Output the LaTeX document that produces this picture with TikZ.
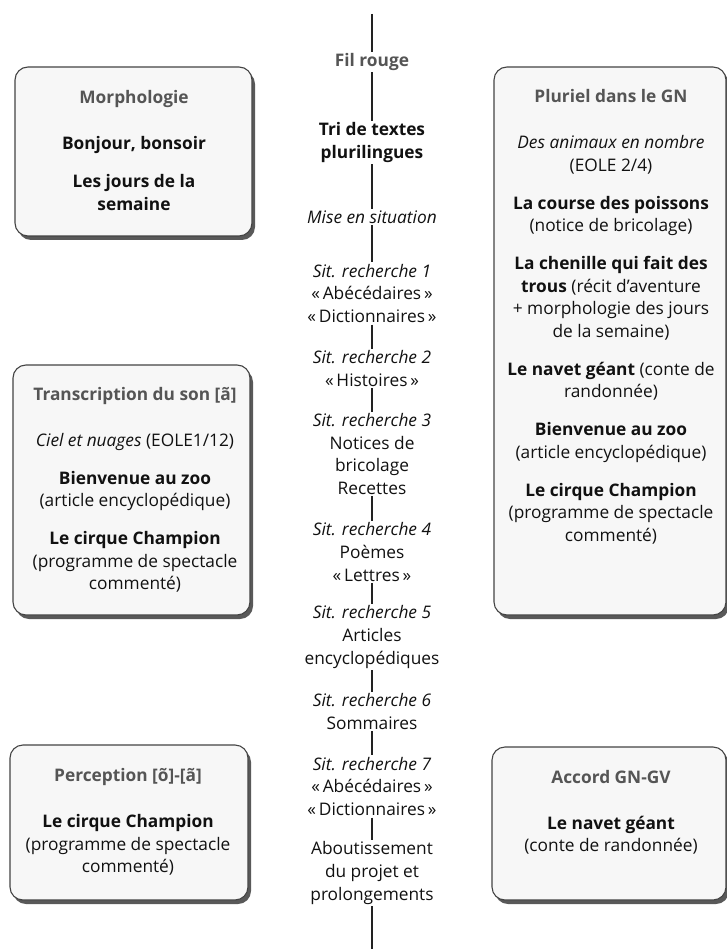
\documentclass[tikz,border=0pt]{standalone}
\usepackage{fontspec}
\setmainfont{Open Sans}
\usetikzlibrary{shadows}
\definecolor{ink}{HTML}{111111}
\definecolor{headgray}{HTML}{555555}
\definecolor{boxfill}{HTML}{F7F7F7}
\definecolor{boxline}{HTML}{444444}
\definecolor{rulecol}{HTML}{222222}
\newcommand\boxhead[1]{\textcolor{headgray}{\textbf{#1}}}
\begin{document}
\begin{tikzpicture}[x=1pt,y=-1pt,
  txt/.style={font=\fontsize{17.3}{22.7}\selectfont, text=ink, align=center, inner sep=1.5pt},
  panel/.style={draw=boxline, line width=1.1pt, fill=boxfill, rounded corners=13pt,
    drop shadow={shadow xshift=3pt, shadow yshift=-4pt, fill=black, opacity=0.65}},
  link/.style={draw=rulecol, line width=1.8pt}
  ]
\useasboundingbox[fill=white] (0,0) rectangle (727,949);

% panels
\node[panel, minimum width=237pt, minimum height=169pt] (morph) at (133.5,151.5) {};
\node[panel, minimum width=232pt, minimum height=548pt] (plur) at (610,341) {};
\node[panel, minimum width=237pt, minimum height=250pt] (trans) at (131.5,490) {};
\node[panel, minimum width=238pt, minimum height=155pt] (perc) at (129,822.5) {};
\node[panel, minimum width=234pt, minimum height=153pt] (accord) at (609,823.5) {};

% panel texts
\node[txt] (morphtxt) at (134,150.5) {\boxhead{Morphologie}\\[23pt]
  \textbf{Bonjour, bonsoir}\\[15pt]
  \textbf{Les jours de la}\\ \textbf{semaine}};
\node[txt] (plurtxt) at (611,317) {\boxhead{Pluriel dans le GN}\\[23pt]
  \textit{Des animaux en nombre}\\ (EOLE 2/4)\\[15pt]
  \textbf{La course des poissons}\\ (notice de bricolage)\\[15pt]
  \textbf{La chenille qui fait des}\\ \textbf{trous} (récit d’aventure\\ + morphologie des jours\\ de la semaine)\\[15pt]
  \textbf{Le navet géant} (conte de\\ randonnée)\\[15pt]
  \textbf{Bienvenue au zoo}\\ (article encyclopédique)\\[15pt]
  \textbf{Le cirque Champion}\\ (programme de spectacle\\ commenté)};
\node[txt] (transtxt) at (135,490) {\boxhead{Transcription du son [ã]}\\[23pt]
  \textit{Ciel et nuages} (EOLE1/12)\\[15pt]
  \textbf{Bienvenue au zoo}\\ (article encyclopédique)\\[15pt]
  \textbf{Le cirque Champion}\\ (programme de spectacle\\ commenté)};
\node[txt] (perctxt) at (128,822) {\boxhead{Perception [õ]-[ã]}\\[23pt]
  \textbf{Le cirque Champion}\\ (programme de spectacle\\ commenté)};
\node[txt] (accordtxt) at (611,812.5) {\boxhead{Accord GN-GV}\\[23pt]
  \textbf{Le navet géant}\\ (conte de randonnée)};

% central column
\coordinate (top) at (372,14);
\coordinate (bot) at (372,949);
\node[txt] (fil) at (372,62) {\boxhead{Fil rouge}};
\node[txt] (tri) at (372,142.5) {\textbf{Tri de textes}\\ \textbf{plurilingues}};
\node[txt] (mise) at (372,217) {\textit{Mise en situation}};
\node[txt] (s1) at (372,293.5) {\textit{Sit. recherche 1}\\ «\,Abécédaires\,»\\ «\,Dictionnaires\,»};
\node[txt] (s2) at (372,368.5) {\textit{Sit. recherche 2}\\ «\,Histoires\,»};
\node[txt] (s3) at (372,454) {\textit{Sit. recherche 3}\\ Notices de\\ bricolage\\ Recettes};
\node[txt] (s4) at (372,552) {\textit{Sit. recherche 4}\\ Poèmes\\ «\,Lettres\,»};
\node[txt] (s5) at (372,637) {\textit{Sit. recherche 5}\\ Articles\\ encyclopédiques};
\node[txt] (s6) at (372,711.5) {\textit{Sit. recherche 6}\\ Sommaires};
\node[txt] (s7) at (372,786.5) {\textit{Sit. recherche 7}\\ «\,Abécédaires\,»\\ «\,Dictionnaires\,»};
\node[txt] (abou) at (372,873) {Aboutissement\\ du projet et\\ prolongements};

\draw[link] (top) -- (fil);
\draw[link] (fil) -- (tri);
\draw[link] (tri) -- (mise);
\draw[link] (mise) -- (s1);
\draw[link] (s1) -- (s2);
\draw[link] (s2) -- (s3);
\draw[link] (s3) -- (s4);
\draw[link] (s4) -- (s5);
\draw[link] (s5) -- (s6);
\draw[link] (s6) -- (s7);
\draw[link] (s7) -- (abou);
\draw[link] (abou) -- (bot);
\end{tikzpicture}
\end{document}
